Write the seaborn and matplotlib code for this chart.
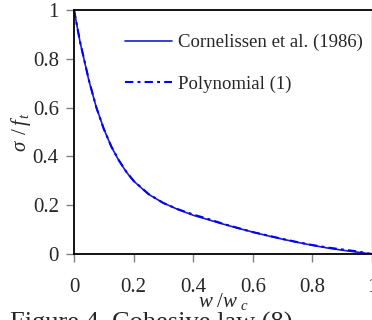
import matplotlib
matplotlib.use('Agg')
import matplotlib.pyplot as plt
import seaborn as sns
import pandas as pd

# data
w_ratio = [0, 0.02, 0.05, 0.075, 0.1, 0.125, 0.15, 0.175, 0.2, 0.25, 0.3, 0.35,
           0.4, 0.45, 0.5, 0.55, 0.6, 0.65, 0.7, 0.75, 0.8, 0.85, 0.9, 0.95, 1.0]
sigma_cornelissen = [1.0, 0.87, 0.71, 0.60, 0.513, 0.44, 0.384, 0.337, 0.299, 0.245, 0.209,
                     0.182, 0.159, 0.141, 0.123, 0.106, 0.09, 0.075, 0.061, 0.048, 0.036,
                     0.025, 0.016, 0.008, 0.0]
sigma_poly = [1.0, 0.87, 0.712, 0.60, 0.512, 0.441, 0.385, 0.338, 0.300, 0.246, 0.209,
              0.183, 0.162, 0.144, 0.124, 0.107, 0.09, 0.076, 0.062, 0.049, 0.037,
              0.027, 0.019, 0.011, 0.0]
xticks = [0, 0.2, 0.4, 0.6, 0.8, 1]
xtick_labels = ['0', '0.2', '0.4', '0.6', '0.8', '1']
yticks = [0, 0.2, 0.4, 0.6, 0.8, 1]
ytick_labels = ['0', '0.2', '0.4', '0.6', '0.8', '1']

sns.set_theme(style='white')
plt.rcParams['font.family'] = ['Liberation Serif', 'DejaVu Serif']
plt.rcParams['mathtext.fontset'] = 'custom'
plt.rcParams['mathtext.rm'] = 'Liberation Serif'
plt.rcParams['mathtext.it'] = 'Liberation Serif:italic'

df = pd.DataFrame({'w': w_ratio, 'c': sigma_cornelissen, 'p': sigma_poly})

fig = plt.figure(figsize=(3.72, 3.2), dpi=100)
ax = fig.add_axes([0.199, 0.206, 0.801, 0.763])

sns.lineplot(data=df, x='w', y='c', ax=ax, color='#1c1cc8', lw=1.2,
             label='Cornelissen et al. (1986)')
sns.lineplot(data=df, x='w', y='p', ax=ax, color='#0000ff', lw=1.5,
             dashes=False, label='Polynomial (1)')
ax.lines[1].set_dashes((4, 2, 1.4, 2))

ax.set_xlim(0, 1)
ax.set_ylim(0, 1)
ax.set_xticks(xticks)
ax.set_xticklabels(xtick_labels)
ax.set_yticks(yticks)
ax.set_yticklabels(ytick_labels)
ax.tick_params(axis='x', direction='out', length=6, width=1, color='#808080',
               pad=11, labelsize=15, bottom=True)
ax.tick_params(axis='y', direction='out', length=6, width=1, color='#808080',
               pad=5, labelsize=15, left=True)

for s in ['left', 'bottom', 'top']:
    ax.spines[s].set_color('black')
    ax.spines[s].set_linewidth(1.3)
ax.spines['right'].set_color('#909090')
ax.spines['right'].set_linewidth(1.0)

ax.set_xlabel(r'$w\ /w_{\ c}$', fontsize=15, labelpad=-4)
ax.set_ylabel(r'$\sigma\ \,/\,f_{\,t}$', fontsize=15, labelpad=0)

leg = ax.legend(loc='upper right', bbox_to_anchor=(1.0, 0.94), frameon=False,
                fontsize=13.5, handlelength=2.5, handletextpad=0.3,
                labelspacing=1.3, borderaxespad=0.1)

fig.text(0.027, -0.03, 'Figure 4. Cohesive law (8)', fontsize=19,
         va='baseline', ha='left')

fig.savefig('out.png', dpi=100)
